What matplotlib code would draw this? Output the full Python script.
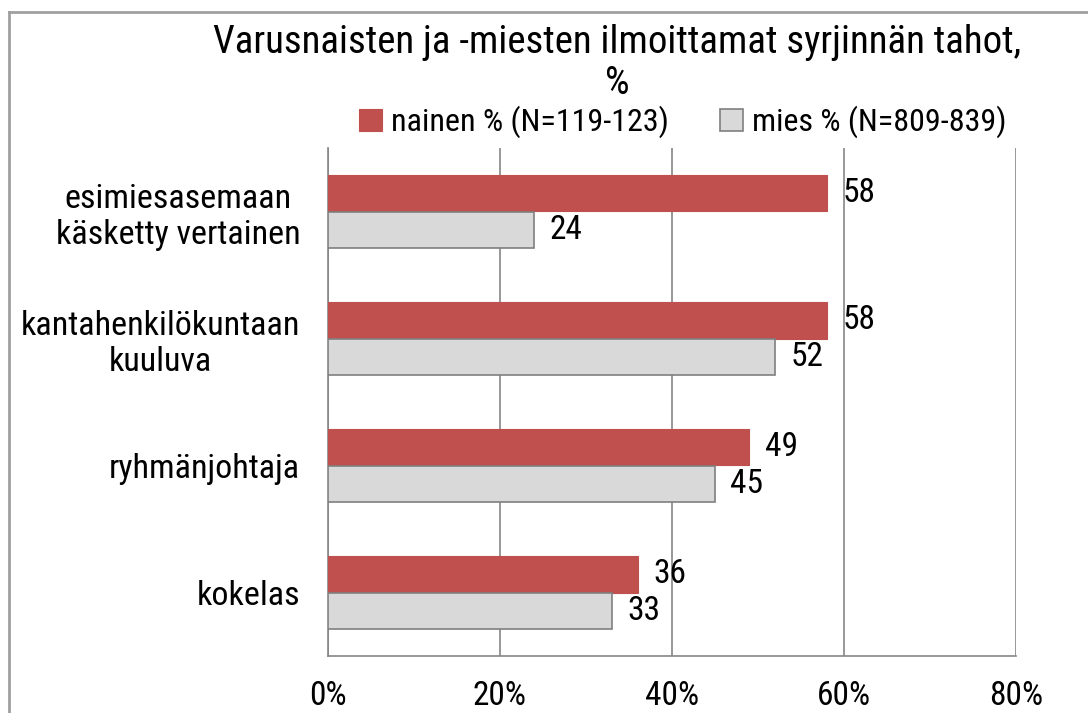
import matplotlib
matplotlib.use('Agg')
import matplotlib.pyplot as plt
from matplotlib import font_manager
import numpy as np

categories = ['esimiesasemaan\nkäsketty vertainen', 'kantahenkilökuntaan\nkuuluva', 'ryhmänjohtaja', 'kokelas']
nainen = [58, 58, 49, 36]
mies = [24, 52, 45, 33]
series_names = ['nainen % (N=119-123)', 'mies % (N=809-839)']
x_ticks = [0, 20, 40, 60, 80]


def pick_narrow_font():
    # look for a narrow / condensed regular face among installed fonts
    prefs = ['liberationsansnarrow-regular', 'robotocondensed-regular', 'dejavusanscondensed.ttf',
             'opensans_condensed-regular', 'opensanscondensed']
    files = [f.fname for f in font_manager.fontManager.ttflist]
    for p in prefs:
        for f in files:
            if p in f.lower().replace(' ', '').replace('_', ''):
                return font_manager.FontProperties(fname=f)
    for f in files:
        low = f.lower()
        if ('narrow' in low or 'condensed' in low) and 'bold' not in low and 'italic' not in low \
                and 'light' not in low and 'oblique' not in low:
            return font_manager.FontProperties(fname=f)
    return font_manager.FontProperties(family='DejaVu Sans')


fp = pick_narrow_font()


def F(size):
    p = fp.copy()
    p.set_size(size)
    return p


fig = plt.figure(figsize=(10.88, 7.13), dpi=100)
ax = fig.add_axes([328 / 1088, 1 - 656 / 713, 688 / 1088, 508 / 713])

y = np.arange(len(categories))
h = 0.29
red_bars = ax.barh(y - h / 2, nainen, height=h, color='#c0504d', edgecolor='#c0504d',
                   linewidth=0.8, label=series_names[0], zorder=3)
gray_bars = ax.barh(y + h / 2, mies, height=h, color='#d9d9d9', edgecolor='#7f7f7f',
                    linewidth=1.2, label=series_names[1], zorder=3)

for bars, vals in [(red_bars, nainen), (gray_bars, mies)]:
    for b, v in zip(bars, vals):
        ax.text(v + 1.8, b.get_y() + b.get_height() / 2, str(v), va='center', ha='left',
                fontproperties=F(24), color='black')

ax.set_xlim(0, 80)
ax.set_ylim(3.5, -0.5)
ax.set_xticks(x_ticks)
ax.set_xticklabels([f'{t}%' for t in x_ticks], fontproperties=F(24))
ax.set_yticks(y)
ax.set_yticklabels(categories, fontproperties=F(24.5), ha='right', multialignment='center',
                   linespacing=1.15)
ax.tick_params(axis='y', length=0, pad=20)
ax.tick_params(axis='x', length=0, pad=17)
ax.xaxis.grid(True, color='#868686', linewidth=1.2, zorder=0)
for s in ['top', 'right']:
    ax.spines[s].set_visible(False)
for s in ['left', 'bottom']:
    ax.spines[s].set_color('#868686')
    ax.spines[s].set_linewidth(1.2)

fig.text(617 / 1088, 1 - 63 / 713, 'Varusnaisten ja -miesten ilmoittamat syrjinnän tahot,\n%',
         ha='center', va='center', fontproperties=F(28), linespacing=1.12)

ax.legend(loc='center', bbox_to_anchor=(683 / 1088, 1 - 122 / 713), bbox_transform=fig.transFigure,
          ncol=2, frameon=False, prop=F(23), handlelength=0.7, handleheight=0.7,
          handletextpad=0.3, columnspacing=1.6, borderpad=0)

# chart border
fig.add_artist(plt.Line2D([9 / 1088, 9 / 1088], [0, 1 - 12 / 713], color='#a0a0a0', linewidth=2,
                          transform=fig.transFigure))
fig.add_artist(plt.Line2D([9 / 1088, 1], [1 - 12 / 713, 1 - 12 / 713], color='#a0a0a0', linewidth=2,
                          transform=fig.transFigure))

fig.savefig('out.png', dpi=100)
